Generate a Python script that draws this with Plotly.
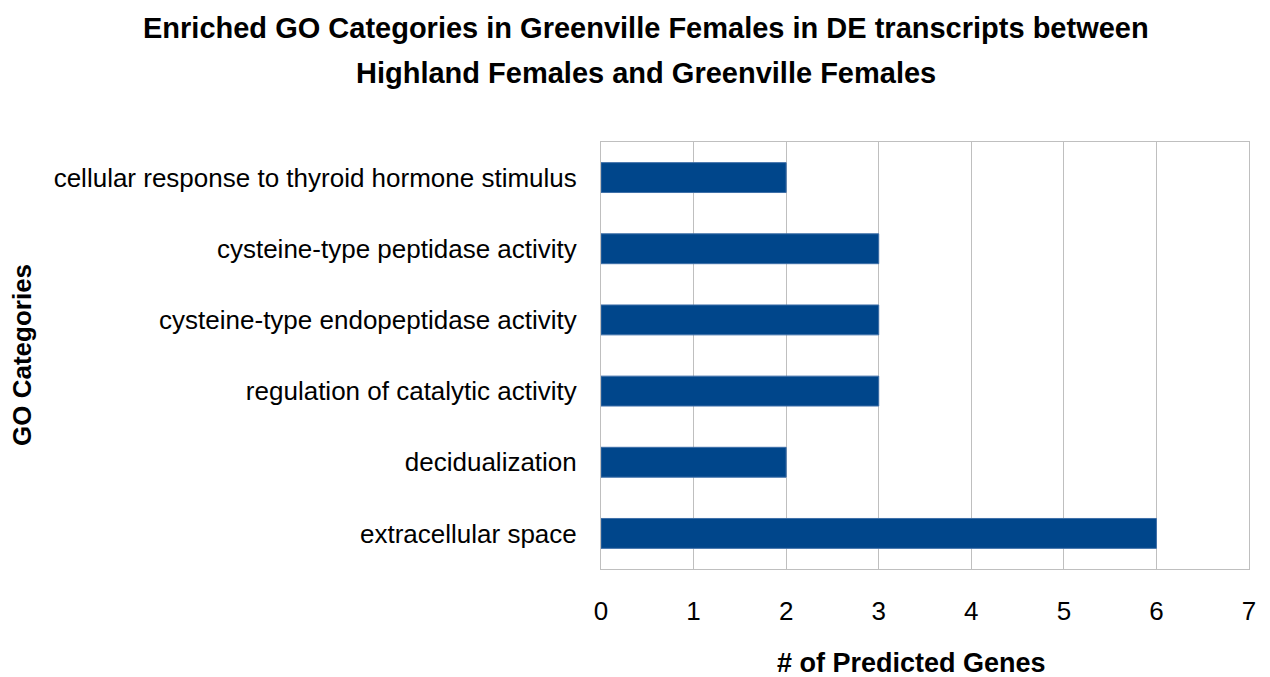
import plotly.graph_objects as go

categories = [
    "extracellular space",
    "decidualization",
    "regulation of catalytic activity",
    "cysteine-type endopeptidase activity",
    "cysteine-type peptidase activity",
    "cellular response to thyroid hormone stimulus",
]
values = [6, 2, 3, 3, 3, 2]
x_ticks = [0, 1, 2, 3, 4, 5, 6, 7]
title_lines = [
    "Enriched GO Categories in Greenville Females in DE transcripts between",
    "Highland Females and Greenville Females",
]

FONT = "Liberation Sans, Arial, sans-serif"

# page is rendered with an 8px body margin; plot area target in page px: x 601..1249, y 142..569
OFF = 8
L, R, T, B = 601 - OFF, 1270 - 1249 + OFF, 142 - OFF, 677 - 569 + OFF
PW, PH = 648, 427


def px(xp):
    return (xp - 601) / PW


def py(yp):
    return (569 - yp) / PH


fig = go.Figure(go.Bar(
    y=categories, x=values, orientation="h",
    marker=dict(color="#00468B", line=dict(color="#3E6FA8", width=1)),
    width=0.42,
))

fig.update_layout(
    width=1270, height=677,
    paper_bgcolor="white", plot_bgcolor="white",
    margin=dict(l=L, r=R, t=T, b=B),
    showlegend=False,
    font=dict(family=FONT, color="black"),
)

for line, ypx in zip(title_lines, [28, 73]):
    fig.add_annotation(
        text=f"<b>{line}</b>", xref="paper", yref="paper",
        x=px(646), y=py(ypx),
        xanchor="center", yanchor="middle", showarrow=False,
        font=dict(size=29, family=FONT, color="black"),
    )

fig.update_xaxes(
    range=[0, 7], tickvals=x_ticks, showgrid=True, gridcolor="#BFBFBF", gridwidth=1,
    showline=True, linecolor="#BFBFBF", mirror=True, zeroline=False, automargin=False,
    tickfont=dict(size=26, family=FONT), ticklabelstandoff=19,
)
fig.update_yaxes(
    showgrid=False, showline=True, linecolor="#BFBFBF", mirror=True, automargin=False,
    tickfont=dict(size=26, family=FONT), ticklabelstandoff=18,
)
fig.add_annotation(
    text="<b># of Predicted Genes</b>", xref="paper", yref="paper",
    x=px(911), y=py(663), xanchor="center", yanchor="middle", showarrow=False,
    font=dict(size=27, family=FONT),
)
fig.add_annotation(
    text="<b>GO Categories</b>", textangle=-90, xref="paper", yref="paper",
    x=px(22), y=py(355), xanchor="center", yanchor="middle", showarrow=False,
    font=dict(size=26, family=FONT),
)

fig.write_html("out.html")
